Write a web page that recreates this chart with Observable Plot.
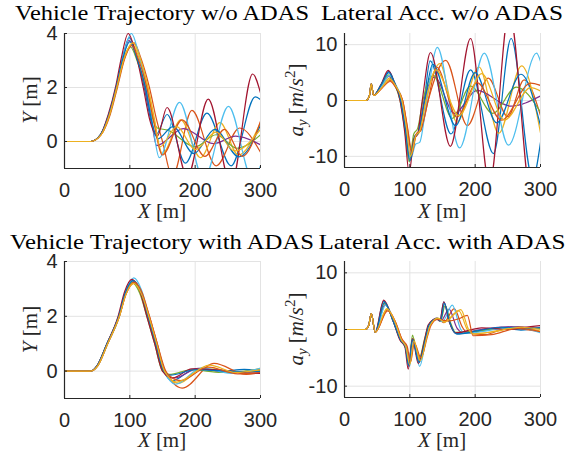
<!DOCTYPE html>
<html><head><meta charset="utf-8">
<script src="https://cdn.jsdelivr.net/npm/d3@7"></script>
<script src="https://cdn.jsdelivr.net/npm/@observablehq/plot@0.6"></script>
<style>
body{margin:0;background:#fff;}
#fig{position:relative;width:582px;height:456px;overflow:hidden;background:#fff;}
#fig .panel{position:absolute;}
#fig svg.overlay{position:absolute;left:0;top:0;pointer-events:none;}
</style></head><body><div id="fig"></div>
<script>
// MATLAB default colour order, cycled over 10 runs
const seriesColors = ["#0072BD","#D95319","#EDB120","#7E2F8E","#77AC30","#4DBEEE","#A2142F","#0072BD","#D95319","#EDB120"];
const xTicks = [0, 100, 200, 300];
const trajTicks = [0, 2, 4];
const accTicks = [-10, 0, 10];
const panelTitles = ["Vehicle Trajectory w/o ADAS", "Lateral Acc. w/o ADAS", "Vehicle Trajectory with ADAS", "Lateral Acc. with ADAS"];

// Y [m] vs X [m], without ADAS (points read at extrema / key positions)
const trajNoAdas = [
 [[0,0],[40,0],[55,0.25],[68,1],[79,2],[89,3.1],[99,3.85],[109,3.3],[122,2],[132,0.8],[140,0.25],[157,1.0],[185,-0.8],[218,1.05],[255,-0.9],[292,1.65],[300,1.55]],
 [[0,0],[40,0],[56,0.25],[70,1],[81,2],[92,3.05],[106.5,3.65],[116,3.15],[130,2],[141,0.8],[150,0],[165,-1.3],[195,1.15],[232,-0.9],[268,0.5],[300,-0.4]],
 [[0,0],[40,0],[56,0.25],[69,1],[80,2],[90,3.0],[104,3.6],[114,3.1],[127,2],[137,0.8],[150,-0.45],[178,0.8],[208,-0.6],[238,0.7],[266,-0.5],[300,0.7]],
 [[0,0],[40,0],[55,0.25],[68,1],[79,2],[89,3.05],[99,3.75],[109,3.2],[123,2],[133,0.8],[141,-0.15],[182,0.48],[228,-0.08],[262,0.2],[300,-0.12]],
 [[0,0],[40,0],[55,0.25],[69,1],[80,2],[90,3.0],[101,3.5],[111,3.0],[124,2],[133,1.0],[142,0.5],[158,0.42],[200,-0.2],[232,0.25],[264,-0.25],[300,0.25]],
 [[0,0],[40,0],[55,0.25],[68,1],[79,2],[90,3.2],[102.5,4.0],[112,3.4],[125,2],[135,0.6],[145,-0.6],[176,1.45],[213,-1.4],[251,1.3],[288,-1.4],[300,-0.9]],
 [[0,0],[40,0],[55,0.25],[67,1],[78,2],[87,3.1],[97.5,4.0],[107.5,3.4],[120.5,2],[130.5,0.8],[142,0.2],[157,1.26],[188,-1.3],[220,1.57],[255,-1.6],[288,2.5],[300,1.8]],
 [[0,0],[40,0],[55,0.25],[68,1],[79,2],[89,3.05],[100,3.7],[110,3.15],[124,2],[134,0.7],[143,0.1],[166,0.55],[198,-0.45],[230,0.45],[267,-0.57],[300,0.6]],
 [[0,0],[40,0],[56,0.25],[69,1],[80,2],[90,2.95],[103,3.55],[113,3.05],[126,2],[136,0.8],[150,-0.5],[180,0.8],[215,-0.55],[245,0.45],[272,-0.55],[300,0.75]],
 [[0,0],[40,0],[56,0.25],[69,1],[80,2],[91,3.05],[105,3.65],[115,3.15],[128,2],[138,0.8],[146,-0.2],[172,0.55],[200,-0.3],[232,0.35],[260,-0.35],[300,0.45]]
];

// a_y [m/s^2] vs X [m], without ADAS
const accNoAdas = [
 [[0,0],[33,0],[38,0.8],[41,3.0],[44.5,0.9],[56,2.8],[68,5.2],[76,3.4],[86,0],[93,-5],[99,-10.5],[107,-6.5],[113,-5.8],[122,0],[131,7.1],[163,-6],[193,5.5],[228,-9.5],[255,11.1],[288,-14],[300,-7.5]],
 [[0,0],[33,0],[38,0.8],[41,3.0],[44.5,0.9],[57,2.2],[70,3.4],[78,2.4],[89,0],[96,-4.5],[103,-9],[110,-6],[117,-5.4],[128,0],[155,7.2],[188,-4.5],[220,4.0],[250,-2.9],[275,3.7],[300,-2.7]],
 [[0,0],[33,0],[38,0.8],[41,3.0],[44.5,0.9],[57,2.5],[69,4.0],[77,2.8],[87,0],[94,-5],[100,-10.8],[108,-6.5],[114,-5.8],[124,0],[146,6.6],[172,-3.9],[206,6.0],[236,-5.9],[271,6.2],[300,-5.8]],
 [[0,0],[33,0],[38,0.8],[41,3.0],[44.5,0.9],[56,2.6],[68,4.3],[76,3],[86,0],[93,-4.8],[100,-10],[108,-6.3],[113,-5.8],[122,0],[138,4.2],[168,-2.3],[203,1.8],[254,-1.0],[300,0.8]],
 [[0,0],[33,0],[38,0.8],[41,3.0],[44.5,0.9],[56,2.7],[68,4.6],[76,3.1],[85,0],[92,-5],[99,-11],[106,-6],[112,-5],[120,0],[136,4.5],[165,-3.2],[193,2.6],[227,-2.3],[263,2.4],[300,-2.1]],
 [[0,0],[33,0],[38,0.8],[41,3.0],[44.5,0.9],[57,2.6],[69,4.5],[77,3.1],[88,0],[95,-5],[101,-10.5],[109,-7.8],[115,-7.5],[126,0],[142,9.5],[176,-8.5],[214,8.5],[251,-8.0],[294,8.5],[300,7.0]],
 [[0,0],[33,0],[38,0.8],[41,3.0],[44.5,0.9],[56,2.9],[67,5.4],[75,3.6],[85,0],[92,-5.5],[99,-13],[106,-7],[112,-6],[119,0],[131.6,8.6],[162,-8.2],[193,11.1],[222,-15],[252,16],[288,-19],[300,-13]],
 [[0,0],[33,0],[38,0.8],[41,3.0],[44.5,0.9],[56,2.8],[68,5.0],[76,3.3],[86,0],[93,-5],[100,-10.8],[108,-6.5],[113,-5.8],[123,0],[135,6.5],[170,-4.5],[200,5.0],[233,-4.0],[270,4.7],[300,-4.5]],
 [[0,0],[33,0],[38,0.8],[41,3.0],[44.5,0.9],[57,2.2],[70,3.6],[78,2.5],[89,0],[96,-4.8],[103,-9.5],[110,-6],[117,-5.2],[128,0],[141,6.0],[172,-3.0],[203,3.2],[240,-3.5],[285,3.1],[300,2.7]],
 [[0,0],[33,0],[38,0.8],[41,3.0],[44.5,0.9],[57,2.3],[70,3.8],[78,2.7],[88,0],[95,-5],[101,-10],[109,-6.3],[115,-5.5],[125,0],[140,5.5],[175,-2.7],[210,4.8],[245,-3.5],[285,2.3],[300,1.7]]
];

// Y [m] vs X [m], with ADAS
const trajAdas = [
 [[0,0],[40,0],[50,0.2],[65,1.0],[83,2.0],[93,2.85],[104,3.3],[116,2.9],[128,2.0],[140,1.0],[152,0],[165,-0.35],[200,0.08],[240,0],[275,0.06],[300,0.02]],
 [[0,0],[40,0],[51,0.2],[66,1.0],[84,2.0],[94,2.8],[106,3.2],[118,2.8],[130,2.0],[142,1.0],[155,0],[180,-0.62],[229,0.28],[278,-0.12],[300,-0.05]],
 [[0,0],[40,0],[51,0.2],[66,1.0],[84,2.0],[94,2.85],[106,3.25],[117,2.85],[129,2.0],[141,1.0],[153,0],[174,-0.45],[215,0.15],[260,-0.05],[300,0.1]],
 [[0,0],[40,0],[50,0.2],[65,1.0],[83,2.0],[93,2.85],[104,3.3],[116,2.9],[127,2],[139,1],[151,0],[168,-0.25],[205,0.1],[250,-0.05],[300,0.05]],
 [[0,0],[40,0],[50,0.2],[65,1.0],[83,2.0],[93,2.85],[103,3.25],[115,2.85],[126,2],[138,1],[150,0],[160,-0.12],[195,0.05],[240,-0.05],[300,0.05]],
 [[0,0],[40,0],[51,0.2],[66,1.0],[84,2.0],[94,2.9],[106,3.4],[118,2.95],[129,2],[141,1],[153,0],[170,-0.48],[210,0.12],[255,-0.08],[300,0.1]],
 [[0,0],[40,0],[50,0.2],[65,1.0],[82,2.0],[92,2.9],[103,3.35],[115,2.95],[126,2],[138,1],[150,0],[165,-0.25],[195,0.08],[235,0.05],[270,-0.05],[300,-0.08]],
 [[0,0],[40,0],[50,0.2],[65,1.0],[83,2.0],[93,2.85],[105,3.3],[117,2.9],[128,2],[140,1],[152,0],[162,-0.15],[200,0.05],[250,0],[300,-0.02]],
 [[0,0],[40,0],[51,0.2],[66,1.0],[84,2.0],[94,2.8],[107,3.25],[119,2.85],[130,2],[142,1],[154,0],[178,-0.35],[220,0.15],[265,-0.1],[300,-0.05]],
 [[0,0],[40,0],[51,0.2],[66,1.0],[84,2.0],[94,2.8],[106,3.2],[118,2.8],[129,2],[141,1],[153,0],[172,-0.4],[222,0.22],[262,-0.05],[300,0.05]]
];

// a_y [m/s^2] vs X [m], with ADAS
const accAdas = [
 [[0,0],[32,0],[37,0.7],[41,2.8],[47,-0.5],[60,5.0],[75,1.3],[86,-1.9],[93,-3.1],[98.5,-6.5],[104.5,-1.8],[114,-5.8],[124,-1.6],[129,0.7],[141,1.9],[146,1.5],[152,4.9],[160,1.5],[170,-0.7],[200,-0.4],[240,0.3],[270,-0.1],[300,0.4]],
 [[0,0],[32,0],[37,0.7],[41,2.8],[47,-0.5],[66,3.5],[78,1.3],[88,-1.8],[95,-3.2],[100,-6.0],[106,-2.2],[116,-5.2],[126,-1.2],[131,0.7],[143,1.9],[152,1.2],[168,3.7],[180,0.5],[188,-0.6],[215,-0.9],[250,0.3],[300,-0.4]],
 [[0,0],[32,0],[37,0.7],[41,2.8],[47,-0.5],[65,3.6],[77,1.4],[87,-1.8],[94,-3.1],[99.5,-6.2],[105.5,-1.6],[115,-5.5],[125,-1.4],[130,0.7],[142,2.0],[152,1.3],[175,3.3],[188,0],[195,-0.7],[230,-0.4],[265,0.5],[300,-0.3]],
 [[0,0],[32,0],[37,0.7],[41,2.8],[47,-0.5],[62,4.4],[76,1.3],[86,-1.9],[93,-3.0],[99,-6.3],[105,-1.7],[114,-5.6],[124,-1.5],[129,0.7],[141,2.0],[148,1.6],[160,3.6],[172,0.3],[180,-0.5],[220,0.2],[255,0.5],[300,0.2]],
 [[0,0],[32,0],[37,0.7],[41,2.8],[47,-0.5],[61,4.6],[75,1.3],[86,-1.9],[93,-3.0],[99,-6.0],[104,-1.0],[113,-5.6],[123,-1.5],[129,0.8],[141,1.9],[147,1.5],[154,4.2],[163,1.0],[170,-0.5],[205,-0.3],[240,0.3],[300,0.2]],
 [[0,0],[32,0],[37,0.7],[41,2.8],[47,-0.5],[63,4.3],[76,1.4],[87,-1.9],[94,-3.2],[99.5,-6.5],[105.5,-2.0],[115,-6.5],[125,-1.6],[130,0.7],[142,2.0],[150,1.4],[165,4.3],[178,0],[185,-0.7],[220,-0.2],[260,0.4],[300,-0.6]],
 [[0,0],[32,0],[37,0.7],[41,2.8],[47,-0.5],[60,5.2],[75,1.3],[85,-1.9],[92.5,-3.1],[97.5,-7.0],[104,-1.6],[113,-6.0],[123,-1.6],[128,0.8],[140,1.9],[146,1.5],[152,4.9],[160,1.5],[170,-0.6],[210,0.3],[250,0],[285,0.5],[300,0.7]],
 [[0,0],[32,0],[37,0.7],[41,2.8],[47,-0.5],[61,4.8],[75,1.3],[86,-1.9],[93,-3.0],[98,-6.3],[104,-1.8],[114,-5.8],[124,-1.6],[129,0.7],[141,1.9],[147,1.5],[153,4.6],[161,1.3],[172,-0.8],[205,-0.2],[240,0.4],[275,0.1],[300,0.3]],
 [[0,0],[32,0],[37,0.7],[41,2.8],[47,-0.5],[66,3.3],[78,1.3],[88,-1.7],[96,-3.0],[101,-5.8],[107,-2.4],[117,-5.0],[127,-1.2],[132,0.6],[142,1.8],[158,1.5],[175,1.9],[188,2.5],[197,-1.1],[225,-0.9],[265,0.2],[300,-0.4]],
 [[0,0],[32,0],[37,0.7],[41,2.8],[47,-0.5],[65,3.7],[77,1.4],[87,-1.8],[94,-3.1],[100,-6.2],[106,-2.0],[116,-5.5],[126,-1.3],[131,0.7],[143,2.0],[153,1.3],[178,3.5],[190,0],[197,-0.8],[235,-0.2],[270,0.4],[300,0]]
];

const axisColor = "#262626";
const gridColor = "#e3e3e3";

function makePanel(series, o) {
  const marks = [
    Plot.gridX(xTicks, {stroke: gridColor, strokeOpacity: 1, strokeWidth: 1}),
    Plot.gridY(o.yTicks, {stroke: gridColor, strokeOpacity: 1, strokeWidth: 1}),
    ...series.map((pts, i) => Plot.line(pts, {
      x: p => p[0], y: p => p[1], stroke: seriesColors[i],
      strokeWidth: 1.2, curve: "monotone-x", clip: true
    })),
    Plot.ruleX([0], {stroke: axisColor, strokeWidth: 1.2}),
    Plot.ruleY([o.yDomain[0]], {stroke: axisColor, strokeWidth: 1.2}),
    Plot.axisX(xTicks, {tickSize: -3, tickPadding: 17, label: null, stroke: axisColor, fill: axisColor, tickFormat: d => String(d)}),
    Plot.axisY(o.yTicks, {tickSize: -3, tickPadding: 10, label: null, stroke: axisColor, fill: axisColor, tickFormat: d => String(d)})
  ];
  const chart = Plot.plot({
    width: 291, height: 228,
    marginLeft: o.ml, marginRight: o.mr, marginTop: o.mt, marginBottom: o.mb,
    x: {domain: [0, 300]},
    y: {domain: o.yDomain},
    style: {fontFamily: "'Liberation Sans', Arial, sans-serif", fontSize: "20px", color: axisColor, background: "transparent", overflow: "visible"},
    marks
  });
  const div = document.createElement("div");
  div.className = "panel";
  div.style.left = o.left + "px";
  div.style.top = o.top + "px";
  div.appendChild(chart);
  return div;
}

const fig = document.getElementById("fig");
fig.appendChild(makePanel(trajNoAdas, {left: 0, top: 0, ml: 64, mr: 31, mt: 33, mb: 60, yDomain: [-1, 4], yTicks: trajTicks}));
fig.appendChild(makePanel(accNoAdas, {left: 291, top: 0, ml: 53, mr: 42, mt: 33, mb: 61, yDomain: [-12, 12], yTicks: accTicks}));
fig.appendChild(makePanel(trajAdas, {left: 0, top: 228, ml: 64, mr: 31, mt: 33, mb: 58, yDomain: [-1, 4], yTicks: trajTicks}));
fig.appendChild(makePanel(accAdas, {left: 291, top: 228, ml: 53, mr: 42, mt: 33, mb: 59, yDomain: [-12, 12], yTicks: accTicks}));

// titles and axis labels (LaTeX-like serif)
const svg = d3.select(fig).append("svg").attr("class", "overlay").attr("width", 582).attr("height", 456)
  .style("font-family", "'Liberation Serif', 'DejaVu Serif', serif");

const titlePos = [[162, 20, 294], [442, 20, 242], [162, 249, 304], [442, 249, 247]];
panelTitles.forEach((t, i) => {
  svg.append("text").attr("x", titlePos[i][0]).attr("y", titlePos[i][1])
    .attr("text-anchor", "middle").attr("font-size", 21).attr("fill", "#000")
    .attr("textLength", titlePos[i][2]).attr("lengthAdjust", "spacingAndGlyphs")
    .text(t);
});

function xLabel(cx, by) {
  const t = svg.append("text").attr("x", cx).attr("y", by).attr("text-anchor", "middle")
    .attr("font-size", 21).attr("fill", axisColor);
  t.append("tspan").attr("font-style", "italic").text("X");
  t.append("tspan").text(" [m]");
}
function yLabel(bx, cy) {
  const t = svg.append("text").attr("transform", `translate(${bx},${cy}) rotate(-90)`).attr("text-anchor", "middle")
    .attr("font-size", 21).attr("fill", axisColor);
  t.append("tspan").attr("font-style", "italic").text("Y");
  t.append("tspan").text(" [m]");
}
function aLabel(bx, cy) {
  const t = svg.append("text").attr("transform", `translate(${bx},${cy}) rotate(-90)`).attr("text-anchor", "middle")
    .attr("font-size", 21).attr("fill", axisColor);
  t.append("tspan").attr("font-style", "italic").text("a");
  t.append("tspan").attr("font-style", "italic").attr("font-size", 15).attr("dy", 4).text("y");
  t.append("tspan").attr("dy", -4).text(" [");
  t.append("tspan").attr("font-style", "italic").text("m");
  t.append("tspan").text("/");
  t.append("tspan").attr("font-style", "italic").text("s");
  t.append("tspan").attr("font-size", 15).attr("dy", -8).text("2");
  t.append("tspan").attr("dy", 8).text("]");
}
xLabel(162, 218); xLabel(442, 218);
xLabel(162, 447); xLabel(442, 447);
yLabel(36.5, 100); yLabel(36.5, 329.5);
aLabel(303, 100); aLabel(303, 329);
</script>
</body></html>
